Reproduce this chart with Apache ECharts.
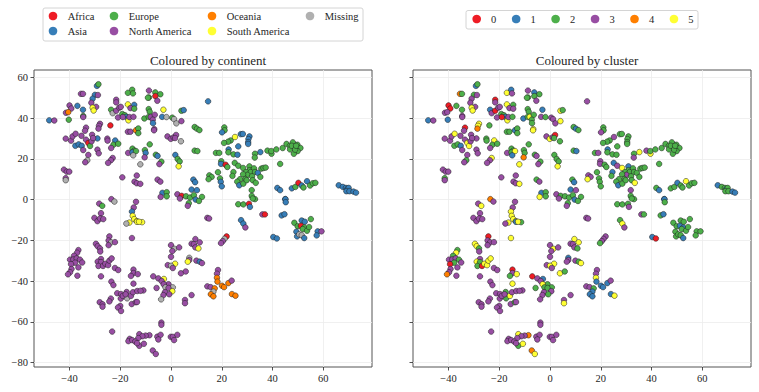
<!DOCTYPE html>
<html>
<head>
<meta charset="utf-8">
<title>t-SNE coloured by continent and cluster</title>
<script src="https://cdn.jsdelivr.net/npm/echarts@6/dist/echarts.min.js"></script>
<style>
  html, body { margin: 0; padding: 0; background: #fff; }
  #chart { width: 759px; height: 392px; }
</style>
</head>
<body>
<div id="chart"></div>
<script>
var continents = ['Africa', 'Asia', 'Europe', 'North America', 'Oceania', 'South America', 'Missing'];
var clusters = ['0', '1', '2', '3', '4', '5'];
var palette = ['#ee1c25', '#377eb8', '#4daf4a', '#984ea3', '#ff7f00', '#ffff33', '#b0b0b0'];
var xTicks = [-40, -20, 0, 20, 40, 60];
var yTicks = [-80, -60, -40, -20, 0, 20, 40, 60];

// rows are [x, y, continent index, cluster index]
var pointsUpperLeft = [
  [-48,38.9,1,1],[-46,38.8,3,3],[-41.5,29.9,3,3],[-39.4,28.9,3,3],[-38.8,31,3,3],[-37.6,32.3,3,5],[-35.3,31.3,3,3],
  [-37.7,26.4,1,2],[-36.4,27.1,1,2],[-35.2,26.4,1,1],[-34.6,24.3,3,3],[-33.5,29.4,3,3],[-32.6,27.8,0,5],[-31.9,26.3,2,5],
  [-31.3,28.6,3,3],[-31.1,31.8,3,3],[-29,30,1,3],[-30.7,30.2,3,3],[-33.5,35.3,3,0],[-33.9,33.8,3,3],[-28,37.2,3,5],
  [-28.4,36.2,3,5],[-28.6,34.8,3,4],[-29,24.5,3,3],[-28.5,22.7,3,3],[-32.6,21.9,3,3],[-33,19.3,6,2],[-33.8,18.3,3,3],
  [-42.2,14.7,3,3],[-41.1,13.7,3,3],[-40.1,13.7,3,3],[-41.5,10.5,3,2],[-41.5,9.5,6,3],[-35.5,51.9,3,4],[-34.7,51.9,3,2],
  [-29.2,55.8,1,1],[-28.6,56.6,2,2],[-30,51.4,1,2],[-28.8,51.3,3,3],[-30.9,49.5,1,3],[-31.4,47.5,3,3],[-29.5,45.5,3,3],
  [-30.9,45.1,5,5],[-30.5,43.7,5,5],[-40,46.2,3,0],[-39.3,44.7,3,0],[-41.4,42.6,3,3],[-40.5,42.9,4,3],[-40.3,39.2,2,1],
  [-36.9,46,1,2],[-34.7,44.1,1,2],[-34.6,41,2,3],[-34.6,40.5,3,3],[-23.9,36.4,0,2],[-23.6,44.1,2,1],[-23,42.4,6,3],
  [-21.6,49,3,0],[-21.6,47.7,3,3],[-21.6,43.6,3,0],[-20.4,45.1,3,3],[-19.8,45.5,3,3],[-20.9,40.3,3,3],[-19.2,42,2,2],
  [-18.2,41.4,2,2],[-17,46.7,5,5],[-14.5,46.5,1,2],[-16,44.9,3,3],[-14.5,44.6,2,3],[-17.6,40.6,1,1],[-19,40.5,3,0],
  [-16.8,38.9,5,5],[-16.4,40.5,3,3],[-14.8,40.6,3,2],[-17,52.4,2,5],[-15.3,53.9,2,1],[-15,52.1,2,3],[-8.7,53.5,3,3],
  [-8.7,50.1,2,2],[-9.1,50,2,2],[-6.2,52.6,2,1],[-4.2,51.7,2,2],[-6.2,50.8,0,2],[-5.4,48.5,3,3],[-3,44.1,5,1],[-8.8,44.4,2,2],
  [-8.4,43.1,2,2],[-10.5,39.8,2,1],[-8.8,40.6,2,2],[-8,40.6,3,5],[-6.4,41.6,3,2],[-7.2,39.2,3,2],[-7.1,37.5,1,2],
  [-6.6,34.6,3,5],[-6.7,34,3,5],[-3.5,40.6,1,3],[-1.8,40.5,6,2],[0.5,40.2,2,3],[1.2,39.5,6,3],[2.1,37.4,6,3],[4.1,38.5,3,5],
  [4.1,43.6,2,5],[5,43.9,1,2],[14.6,48.2,1,3],[-17,33.3,3,2],[-16,33.3,3,2],[-13.8,34,4,1],[-12.9,34.9,2,2],[-12.9,32.6,2,2],
  [-25.1,29.9,3,2],[-25,28.9,3,2],[-22,29,1,5],[-22.7,26.9,2,2],[-20.8,27.4,2,2],[-23.6,25.3,3,3],[-23,20.4,3,5],
  [-23.7,19.3,3,3],[-24.8,18,3,3],[-15.2,25,2,2],[-14.5,24,2,2],[-16.9,22.9,3,3],[-15.2,23.2,1,2],[-13.8,23.8,2,5],
  [-14.9,21.7,6,1],[-10.3,24.3,2,2],[-10,22.9,1,2],[-10.4,20.7,3,4],[-8.4,27.1,2,2],[-6,22,2,2],[-5.3,21.4,1,3],[-12.1,17.3,6,5],
  [-3.8,18.6,2,2],[-4.6,17.4,3,3],[-1.4,31,3,3],[-0.1,29.8,3,5],[1,30.5,3,3],[2,31.7,3,0],[1.6,30.2,3,2],[3.9,28.6,6,2],
  [1.7,21.9,1,2],[2.6,19.9,2,2],[3.4,18.7,2,2],[3,16.3,5,5],[9.3,35.6,2,2],[10.2,34.8,2,1],[11.2,34.1,2,2],[9.3,24,2,2],
  [10.4,23.8,2,1],[-19.2,10.9,3,3],[-13.5,11.8,3,3],[-14.4,8.8,3,3],[-13.5,8,3,3],[-12.1,7.7,3,5],[-5.3,9.8,3,2],[-4.2,8.8,3,3],
  [8.8,9.8,1,2],[9.5,8.5,1,1]
];

var pointsUpperRight = [
  [21,35.4,2,2],[21.1,34,2,2],[20.1,33,1,3],[27.5,32.1,1,2],[28.3,32.2,1,2],[25.2,30.7,5,3],[23.5,29,2,2],[22.5,28.4,2,2],
  [20.9,27.8,2,2],[30.9,31,1,2],[30.5,29.7,1,2],[30.4,28.2,1,2],[30.4,27.3,1,2],[26.5,26.1,1,2],[22.7,24.6,1,1],[22.6,23.2,2,2],
  [17.7,22.9,2,2],[19,22.9,2,3],[24.6,22.2,2,2],[26.2,22,1,2],[33.1,22.5,2,2],[33,20.6,2,3],[35.2,23.3,1,5],[38,24,2,3],
  [39.6,22.5,2,5],[39.5,23.8,2,2],[41.5,24.6,2,2],[44,25.3,2,2],[45.5,27.3,2,2],[46.8,26.3,2,2],[48,28.1,2,2],[49.8,26.9,2,2],
  [51,25.3,2,2],[48.5,25.8,2,2],[49.9,23.8,2,2],[48.4,22.5,2,2],[46.9,24.6,2,2],[47.6,26.4,2,2],[48.9,24.5,2,2],[49.3,26.4,2,2],
  [43,17.5,2,2],[19.8,18.8,2,3],[19.7,17.5,1,3],[21.5,17.1,0,2],[22.2,16,2,2],[25.1,18,2,1],[26.5,16.6,2,3],[28.4,15.5,2,5],
  [30.9,16.3,2,1],[30.9,14.4,2,2],[32.7,15.3,2,2],[29.6,13.5,2,2],[31.4,13.5,2,2],[33.1,13.5,2,2],[34.2,13.1,1,2],[35.2,11.1,2,2],
  [30.1,12.1,2,3],[28.4,12.4,2,2],[31.9,11.4,2,2],[29.3,10.1,2,2],[27.2,10,2,2],[26.1,8.8,2,2],[26.9,7,1,1],[28.5,7.8,2,2],
  [29.8,9.5,2,2],[32.2,9.5,2,2],[33.4,8.2,2,5],[31.8,4.6,2,3],[31.8,1.8,2,2],[33.1,0.2,2,2],[32.2,0.5,2,2],[35.6,15.2,2,2],[36.4,15.5,2,2],
  [37.3,15.7,2,2],[24.6,13.5,2,1],[24.2,11.6,2,2],[15.1,11.9,2,3],[16,11.1,2,3],[14.8,10,2,5],[18.5,13.4,2,2],[19.3,10.4,2,2],
  [19.6,8.7,1,2],[20,6.5,1,2],[41.9,5.7,1,2],[43,4.6,1,1],[45,0.2,1,1],[47.6,5.5,1,2],[49,6.2,2,2],[50.2,8.2,0,1],[51.5,6.9,1,2],
  [52.2,5.9,2,2],[53.6,9,1,5],[54.8,6.9,2,2],[55.9,8,2,2],[56.9,8.2,2,2],[66.1,7,1,1],[67.7,6.2,1,2],[68.9,5.7,1,2],[69.5,5.2,1,1],
  [70,5.7,1,2],[69.1,4.1,1,2],[70.3,4.1,1,2],[71.9,3.9,1,1],[72.9,3.4,1,1]
];

var pointsMiddle = [
  [-3.4,3.3,1,1],[-4.1,1.3,3,5],[-1.7,3.6,2,2],[-1.7,1.6,2,2],[2.5,2.6,3,3],[4.2,1.8,0,2],[3.5,0.5,3,3],[5.9,1.6,2,2],
  [7.5,1,2,2],[8.1,4.9,1,1],[10.2,4.6,1,3],[9,2.1,2,2],[9.7,0,1,1],[12.2,1.3,2,2],[11,-0.7,2,2],[7,-1.8,2,2],[6.6,-3.1,3,3],
  [-23.5,0.2,3,4],[-22.3,-1,6,3],[-28.3,-2,3,3],[-27.1,-3.1,2,5],[-27.6,-6.7,3,3],[-30.2,-9,3,3],[-29,-10.6,3,3],[-28,-9.3,3,3],
  [-26.7,-9.6,3,3],[-13.8,-1.1,3,3],[-14.7,-3.9,3,3],[-15.4,-5.9,1,5],[-15.1,-8,5,5],[-14.5,-9.6,5,5],[-13.5,-10.6,5,5],
  [-11.4,-11.1,5,2],[-16.4,-11.3,5,5],[-17.6,-11.8,6,3],[-13.4,-10.9,5,1],[-12.6,-10.9,5,5],[26.5,-2.3,2,2],[28.5,-2.4,2,2],[30.7,-2.1,0,2],
  [31.1,-3.6,1,3],[27.6,-10.1,1,2],[28.5,-11.8,1,5],[29.3,-13.7,3,3],[36,-7.3,3,3],[37,-7.3,0,2],[43.6,-7.8,1,2],[44.7,-7.2,1,1],
  [45.1,0.2,1,1],[45.2,-1.3,1,2],[14.3,-9,3,3],[15,-9.3,3,3],[40.3,-18.4,1,1],[41.7,-19.1,1,0],[48.6,-11.4,2,2],[49.9,-13.1,2,2],
  [51.5,-10.3,1,2],[52.7,-10.9,1,2],[51.2,-12.9,0,1],[52.5,-13.7,2,1],[51.9,-14.5,2,2],[53.6,-15.3,2,2],[54.4,-13.5,2,2],
  [55.1,-9.6,2,2],[49.4,-15.8,1,2],[49.7,-18.1,1,2],[50.5,-17.1,6,2],[51.5,-17.5,6,2],[52.5,-18.9,1,1],[57.8,-15.6,1,2],
  [57.4,-17.6,1,2],[59.3,-15.6,3,2],[21.9,-18.1,0,3],[21.1,-19.3,6,3],[20.4,-20.4,3,3],[19.7,-21.4,3,2]
];

var pointsLower = [
  [-15.4,-18.9,3,5],[-24.3,-18.1,3,0],[-24.6,-20.1,3,3],[-23.6,-21,6,3],[-22.1,-20.9,3,3],[-24.6,-22.4,3,3],[-29.6,-21.7,3,5],
  [-28.9,-22.9,3,5],[-28,-24,3,2],[-27.9,-25.5,3,3],[-36.5,-24.8,3,2],[-37,-26.1,3,5],[-38.2,-27.6,3,2],[-39.8,-29.5,3,3],
  [-38.5,-29.4,3,3],[-37.2,-28.9,3,3],[-35.9,-29.5,3,2],[-35,-30.9,3,3],[-37.8,-31,3,2],[-39.4,-31.7,3,0],[-36.5,-33.3,3,3],
  [-39.2,-34.1,3,3],[-39.8,-35.7,3,3],[-40.6,-36.7,3,4],[-36.9,-37.4,3,3],[-27.6,-29.2,3,3],[-28.9,-30.5,3,5],[-27.6,-30.7,3,2],
  [-28.6,-32.6,3,2],[-26.8,-32.6,3,0],[-25.9,-31.5,3,5],[-24.8,-32.2,3,5],[-24.3,-30,3,5],[-23.4,-28.9,3,5],[-22.1,-33.6,3,3],
  [-20.8,-34.6,3,3],[-27.6,-37.7,3,3],[-14.8,-34.4,3,0],[-14.8,-36.1,3,3],[-15.8,-37.5,3,2],[-13.1,-36.6,3,5],[-23.5,-40.3,3,3],
  [-22.7,-42,3,3],[-14.8,-41.3,3,5],[-7,-37.7,3,0],[-5,-38.7,3,3],[-2.8,-39,5,1],[-3.7,-40,3,3],[-5.7,-43.4,3,2],[-1,-41.6,3,2],
  [-2.9,-41.6,3,5],[0.7,-43.1,6,2],[-2.2,-43.1,6,2],[-1,-43.4,3,2],[0.5,-45,5,3],[-2.4,-45.5,3,3],[-0.7,-46.5,3,2],[-3,-46.9,3,3],
  [-3.9,-49,6,3],[-17.5,-45.4,3,2],[-21.2,-46,3,3],[-19.7,-46.4,3,3],[-19.8,-48.6,3,3],[-17.3,-48.5,6,2],[-19,-47.3,3,3],
  [-17.9,-46.5,3,3],[-15.8,-47.3,3,5],[-15,-45.5,3,3],[-13.3,-44.9,3,3],[-10.9,-44.6,3,3],[-12,-44.8,3,3],[-15.5,-51.3,3,3],
  [-13.9,-50.4,3,2],[-13.4,-50.3,3,3],[-23.7,-48.6,3,3],[-24.3,-50,3,3],[-28.1,-50.4,3,3],[-27,-51.4,3,3],[-27,-52.6,3,3],
  [-20,-52.2,3,3],[-20.9,-53,3,3],[-19.7,-54.7,3,3],[0,-22.4,3,3],[1.3,-24.2,6,5],[0.5,-25.3,3,3],[3.2,-23.5,3,3],[0,-28.1,3,3],
  [-1.3,-32.2,3,3],[1.6,-31.5,5,5],[0,-32.5,6,5],[0.7,-33.6,3,3],[3.9,-36.2,3,5],[5.8,-35.3,3,2],[7.2,-28.6,6,1],[7.2,-29.7,3,3],
  [6.6,-30.5,5,3],[9.6,-19.4,3,5],[8.1,-21.7,3,3],[9,-21.9,3,3],[11.3,-21,3,5],[9.6,-23.5,3,3],[10.8,-24,5,2],[10,-30,3,3],
  [11.3,-30.5,1,2],[12.2,-31.2,3,5],[18.5,-34.6,3,3],[18.1,-36.4,3,3],[18.1,-38.4,4,5],[18.3,-40.3,4,1],[14.3,-42.6,3,3],
  [15.6,-43,3,3],[17.2,-43.6,4,2],[16.7,-45.2,6,1],[15.7,-46.5,4,1],[16.7,-47.5,4,1],[20.1,-42.3,4,1],[20.9,-43,4,1],[22.6,-41,4,1],
  [23.9,-39.8,3,3],[24,-46.4,4,1],[25.4,-47.2,4,5],[8.1,-46.9,3,3],[5.5,-49.3,3,3],[5.5,-50.9,3,5],[-3.8,-60.4,3,3],[-3.8,-61.5,3,3],
  [-23.2,-64.8,3,3],[-8.5,-66.6,3,4],[-10,-66.8,3,3],[-12.5,-66.1,3,5],[-11.3,-67.1,3,3],[-12.9,-68,3,3],[-16.3,-68.4,3,3],
  [-16.8,-69.5,3,3],[-15.3,-69,3,3],[-14.1,-69.7,3,3],[-12.5,-71.8,3,2],[-10.7,-70.8,3,5],[-13.4,-70.5,3,3],[-5.4,-67.3,3,3],
  [-4.1,-66.4,3,3],[-5,-68.7,3,3],[-0.1,-67.4,3,3],[0.7,-67.4,3,3],[1.2,-69,3,3],[2.5,-66.4,3,3],[-7.2,-74.1,3,4],[-6,-75.8,3,5]
];

var points = pointsUpperLeft.concat(pointsUpperRight, pointsMiddle, pointsLower);
var serifFont = '"Liberation Serif", serif';
var inkColor = '#262626';

function tickLabel(v) {
  return String(v).replace('-', '\u2212');
}

function makeXAxis(gridIndex) {
  return {
    type: 'value',
    gridIndex: gridIndex,
    min: -54,
    max: 79.2,
    axisLine: { show: false, onZero: false },
    axisTick: { length: 3.5, lineStyle: { color: inkColor, width: 0.8 }, customValues: xTicks },
    axisLabel: { color: inkColor, fontFamily: serifFont, fontSize: 10.5, margin: 6, formatter: tickLabel, customValues: xTicks },
    splitLine: { lineStyle: { color: '#ececec', width: 0.8 } }
  };
}

function makeYAxis(gridIndex, showLabels) {
  return {
    type: 'value',
    gridIndex: gridIndex,
    min: -82.2,
    max: 63.6,
    axisLine: { show: false, onZero: false },
    axisTick: { length: 3.5, lineStyle: { color: inkColor, width: 0.8 }, customValues: yTicks },
    axisLabel: { show: showLabels, color: inkColor, fontFamily: serifFont, fontSize: 10.5, margin: 6, formatter: tickLabel, customValues: yTicks },
    splitLine: { lineStyle: { color: '#ececec', width: 0.8 } }
  };
}

function makeScatter(gridIndex, colourColumn) {
  return {
    type: 'scatter',
    xAxisIndex: gridIndex,
    yAxisIndex: gridIndex,
    symbolSize: 5.6,
    silent: true,
    progressive: 0,
    data: points.map(function(p) {
      return { value: [p[0], p[1]], itemStyle: { color: palette[p[colourColumn]] } };
    }),
    itemStyle: { opacity: 1, borderColor: '#1a1a1a', borderWidth: 0.5 }
  };
}

// empty series, only there so the legends have something to refer to
function legendSeries(names, gridIndex) {
  return names.map(function(name, i) {
    return { type: 'scatter', name: name, xAxisIndex: gridIndex, yAxisIndex: gridIndex, data: [], itemStyle: { color: palette[i], opacity: 1 } };
  });
}

function makeLegend(names, left, top, itemGap, orient, textPad) {
  return {
    data: names,
    orient: orient,
    left: left,
    top: top,
    padding: 0,
    itemGap: itemGap,
    itemWidth: 8.6,
    itemHeight: 8.6,
    icon: 'circle',
    selectedMode: false,
    textStyle: { color: inkColor, fontFamily: serifFont, fontSize: 10.5, padding: [0, 0, 0, textPad] }
  };
}

function legendBox(x, y, width, height) {
  return {
    type: 'rect',
    shape: { x: x, y: y, width: width, height: height, r: 2 },
    style: { fill: '#fff', stroke: '#d4d4d4', lineWidth: 1 }
  };
}

var chart = echarts.init(document.getElementById('chart'), null, { renderer: 'svg' });
chart.setOption({
  animation: false,
  backgroundColor: '#fff',
  title: [
    { text: 'Coloured by continent', left: 203, top: 49, textAlign: 'center',
      textStyle: { color: inkColor, fontFamily: serifFont, fontSize: 13, fontWeight: 'normal' } },
    { text: 'Coloured by cluster', left: 582, top: 49, textAlign: 'center',
      textStyle: { color: inkColor, fontFamily: serifFont, fontSize: 13, fontWeight: 'normal' } }
  ],
  graphic: [legendBox(43, 8, 320, 33), legendBox(466, 10.5, 232, 18.5)],
  legend: [
    makeLegend(continents.slice(0, 2), 48.7, 10.5, 4, 'vertical', 5.4),
    makeLegend(continents.slice(2, 4), 109.7, 10.5, 4, 'vertical', 5.4),
    makeLegend(continents.slice(4, 6), 207.7, 10.5, 4, 'vertical', 5.4),
    makeLegend(continents.slice(6), 305.7, 10.5, 4, 'vertical', 5.4),
    makeLegend(clusters, 472.4, 13.5, 15.5, 'horizontal', 5.1)
  ],
  grid: [
    { show: true, left: 34, top: 70, width: 338, height: 297, borderColor: '#555', borderWidth: 1, backgroundColor: 'transparent' },
    { show: true, left: 413, top: 70, width: 338, height: 297, borderColor: '#555', borderWidth: 1, backgroundColor: 'transparent' }
  ],
  xAxis: [makeXAxis(0), makeXAxis(1)],
  yAxis: [makeYAxis(0, true), makeYAxis(1, false)],
  series: [makeScatter(0, 2), makeScatter(1, 3)]
    .concat(legendSeries(continents, 0))
    .concat(legendSeries(clusters, 1))
});
window.addEventListener('resize', function() { chart.resize(); });
</script>
</body>
</html>
